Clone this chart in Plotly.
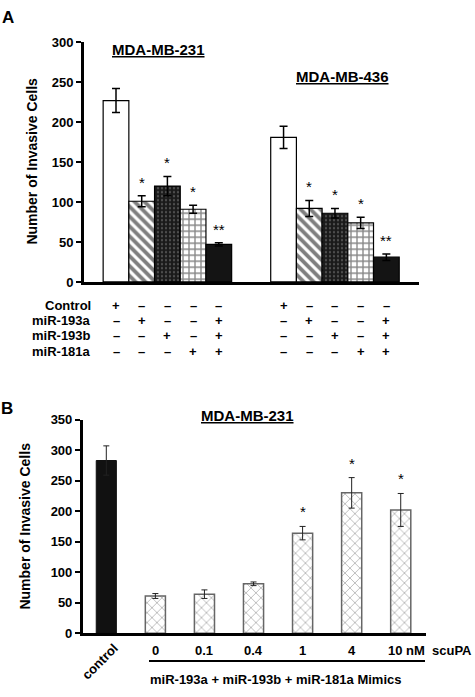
import plotly.graph_objects as go

W, H = 475, 697
def px(x): return x / W
def py(y): return 1 - y / H

FONT = "Arial, Liberation Sans, sans-serif"

# ---------------- Panel A data ----------------
a_cells = ["MDA-MB-231", "MDA-MB-436"]
a_treatments = ["Control", "miR-193a", "miR-193b", "miR-181a", "miR-193a+193b+181a"]
a_231 = [227, 101, 120, 91, 47]
a_231_err = [15, 7, 12, 5, 2]
a_436 = [181, 92, 86, 74, 31]
a_436_err = [14, 10, 6, 7, 4]
a_sig_231 = ["", "*", "*", "*", "**"]
a_sig_436 = ["", "*", "*", "*", "**"]
a_rows = ["Control", "miR-193a", "miR-193b", "miR-181a"]
a_table = [["+", "–", "–", "–", "–"],
           ["–", "+", "–", "–", "+"],
           ["–", "–", "+", "–", "+"],
           ["–", "–", "–", "+", "+"]]
a_yticks = [0, 50, 100, 150, 200, 250, 300]

# ---------------- Panel B data ----------------
b_labels = ["control", "0", "0.1", "0.4", "1", "4", "10 nM"]
b_vals = [283, 61, 64, 81, 164, 230, 202]
b_err = [24, 4, 7, 3, 11, 25, 27]
b_sig = ["", "", "", "", "*", "*", "*"]
b_yticks = [0, 50, 100, 150, 200, 250, 300, 350]

GROUP2_OFFSET = 6.52

a_styles = [
    dict(color="white", line=dict(color="black", width=1.2)),
    dict(color="white", line=dict(color="black", width=1.2),
         pattern=dict(shape="\\", fgcolor="black", bgcolor="white", size=7, solidity=0.55)),
    dict(color="#1a1a1a", line=dict(color="black", width=1.2),
         pattern=dict(shape=".", fgcolor="#8a8a8a", bgcolor="#1a1a1a", size=4, solidity=0.25)),
    dict(color="white", line=dict(color="black", width=1.2),
         pattern=dict(shape="+", fgcolor="#111111", bgcolor="white", size=6, solidity=0.4)),
    dict(color="#141414", line=dict(color="black", width=1.2)),
]

fig = go.Figure()

for i, name in enumerate(a_treatments):
    fig.add_trace(go.Bar(
        x=[i, GROUP2_OFFSET + i], y=[a_231[i], a_436[i]], width=1.0,
        name=name, marker=a_styles[i],
        error_y=dict(type="data", array=[a_231_err[i], a_436_err[i]], color="black",
                     thickness=1.5, width=4),
        xaxis="x", yaxis="y", showlegend=False))

# Panel B bars
b_x = list(range(len(b_vals)))
fig.add_trace(go.Bar(
    x=b_x[:1], y=b_vals[:1], width=0.41, marker=dict(color="#111111", line=dict(color="#111111", width=1)),
    error_y=dict(type="data", array=b_err[:1], color="#222222", thickness=1, width=3),
    xaxis="x2", yaxis="y2", showlegend=False))
fig.add_trace(go.Bar(
    x=b_x[1:], y=b_vals[1:], width=0.41,
    marker=dict(color="white", line=dict(color="#666666", width=1.5),
                pattern=dict(shape="x", fgcolor="#222222", bgcolor="white", size=7, solidity=0.16)),
    error_y=dict(type="data", array=b_err[1:], color="#222222", thickness=1, width=3),
    xaxis="x2", yaxis="y2", showlegend=False))

BOLD = lambda s: dict(size=s, color="black", family=FONT, weight="bold")

ann = []
# significance stars, panel A
for i in range(len(a_treatments)):
    for xpos, val, err, sig in [(i, a_231[i], a_231_err[i], a_sig_231[i]),
                                (GROUP2_OFFSET + i, a_436[i], a_436_err[i], a_sig_436[i])]:
        if sig:
            ann.append(dict(x=xpos, y=val + err, xref="x", yref="y", text=sig, showarrow=False,
                            xanchor="center", yanchor="bottom", yshift=3,
                            font=dict(size=15, color="black", family=FONT)))
# significance stars, panel B
for i, sig in enumerate(b_sig):
    if sig:
        ann.append(dict(x=b_x[i], y=b_vals[i] + b_err[i], xref="x2", yref="y2", text=sig, showarrow=False,
                        xanchor="center", yanchor="bottom", yshift=4,
                        font=dict(size=15, color="black", family=FONT)))

# treatment table under panel A
row_y = [305, 320, 335.7, 352.3]
for r, label in enumerate(a_rows):
    ann.append(dict(x=px(93), y=py(row_y[r]), xref="paper", yref="paper", text=label, showarrow=False,
                    xanchor="right", yanchor="middle", font=BOLD(13)))
    for i in range(len(a_treatments)):
        for off in (0, GROUP2_OFFSET):
            ann.append(dict(x=off + i, y=py(row_y[r]), xref="x", yref="paper", text=a_table[r][i],
                            showarrow=False, xanchor="center", yanchor="middle", font=BOLD(13)))

# panel titles / letters
def txt(x, y, text, size, **kw):
    d = dict(x=px(x), y=py(y), xref="paper", yref="paper", text=text, showarrow=False,
             xanchor="center", yanchor="middle", font=BOLD(size))
    d.update(kw)
    return d

ann += [
    txt(8, 11, "A", 17),
    txt(7, 410, "B", 17),
    txt(158, 43, "<u>" + a_cells[0] + "</u>", 15),
    txt(342, 71, "<u>" + a_cells[1] + "</u>", 15),
    txt(247, 417, "<u>MDA-MB-231</u>", 15),
    txt(32, 158, "Number of Invasive Cells", 14, textangle=-90),
    txt(25, 531, "Number of Invasive Cells", 14, textangle=-90),
    txt(100, 669, b_labels[0], 13, textangle=-45),
    txt(430, 658, "scuPA", 13, xanchor="left"),
    txt(275.5, 687, "miR-193a + miR-193b + miR-181a Mimics", 13),
]

# panel B numeric x labels
for i, lab in enumerate(b_labels[1:], start=1):
    ann.append(dict(x=b_x[i], y=py(658), xref="x2", yref="paper", text=lab, showarrow=False,
                    xanchor="center", yanchor="middle", xshift=(6 if " " in lab else 0), font=BOLD(13)))

shapes = [dict(type="line", xref="paper", yref="paper", x0=px(149), x1=px(425), y0=py(668.5), y1=py(668.5),
               line=dict(color="black", width=2))]

axis_font = BOLD(13)
fig.update_layout(
    width=W, height=H, margin=dict(l=0, r=0, t=0, b=0),
    paper_bgcolor="white", plot_bgcolor="white", barmode="overlay",
    font=dict(family=FONT, color="black"),
    xaxis=dict(domain=[px(84), px(419)], range=[-1.245, 11.79], anchor="y",
               showline=True, linewidth=3, linecolor="black", showticklabels=False,
               ticks="", showgrid=False, zeroline=False),
    yaxis=dict(domain=[py(281), py(36)], range=[0, 300], anchor="x", tickvals=a_yticks,
               showline=True, linewidth=3, linecolor="black", ticks="outside", ticklen=5,
               tickwidth=2, tickcolor="black", showgrid=False, zeroline=False, tickfont=axis_font),
    xaxis2=dict(domain=[px(82.7), px(426)], range=[-0.481, 6.515], anchor="y2",
                showline=True, linewidth=2.5, linecolor="black", showticklabels=False,
                ticks="", showgrid=False, zeroline=False),
    yaxis2=dict(domain=[py(640), py(421.7)], range=[0, 350], anchor="x2", tickvals=b_yticks,
                showline=True, linewidth=2.5, linecolor="black", ticks="outside", ticklen=5,
                tickwidth=2, tickcolor="black", showgrid=False, zeroline=False, tickfont=axis_font),
    annotations=ann, shapes=shapes,
)

fig.write_html("out.html", config={"displayModeBar": False},
               post_script="document.body.style.margin='0px';")
